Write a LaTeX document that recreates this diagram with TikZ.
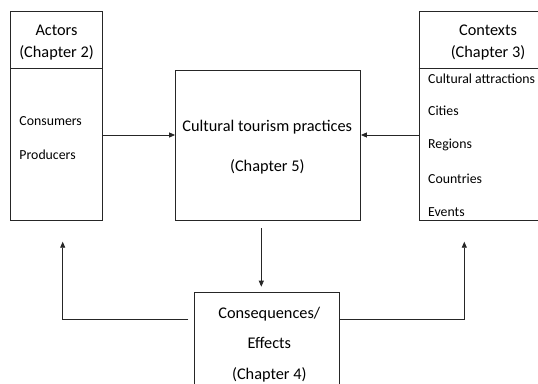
\documentclass[tikz,border=0pt]{standalone}
\usepackage{fontspec}
\setmainfont{Carlito}
\usetikzlibrary{arrows.meta}
\begin{document}
\begin{tikzpicture}[x=1pt,y=-1pt,
  box/.style={draw=black!85,line width=0.8pt,inner sep=0pt},
  big/.style={font=\fontsize{16.3}{19}\selectfont,inner sep=0pt,anchor=center},
  small/.style={font=\fontsize{13.8}{16}\selectfont,inner sep=0pt,anchor=west},
  arr/.style={draw=black!85,line width=0.8pt,-{Triangle[length=6pt,width=5pt]}},
  ln/.style={draw=black!85,line width=0.8pt}]
\useasboundingbox (0,0) rectangle (538,383);
\clip (0,0) rectangle (538,383);
% boxes
\node[box,minimum width=92pt,minimum height=209pt] (actors) at (56.5,115.5) {};
\node[box,minimum width=185pt,minimum height=150pt] (mid) at (268,145) {};
\node[box,minimum width=138pt,minimum height=209pt] (ctx) at (488,115.5) {};
\node[box,minimum width=145.5pt,minimum height=117pt] (cons) at (266.75,351) {};
% dividers
\coordinate (dv) at (0,68.3);
\draw[ln] (actors.west |- dv) -- (actors.east |- dv);
\draw[ln] (ctx.west |- dv) -- (ctx.east |- dv);
% texts
\node[big] (t1) at (56.5,30.7) {Actors};
\node[big] (t2) at (56.5,52.7) {(Chapter 2)};
\node[small] (t3) at (19.3,120.7) {Consumers};
\node[small] (t4) at (19.3,155) {Producers};
\node[big] (t5) at (488,30.7) {Contexts};
\node[big] (t6) at (488,52.7) {(Chapter 3)};
\node[small] (t7) at (428,78.3) {Cultural attractions};
\node[small] (t8) at (428,111) {Cities};
\node[small] (t9) at (428,145) {Regions};
\node[small] (t10) at (428,179) {Countries};
\node[small] (t11) at (428,211.7) {Events};
\node[big] (t12) at (267.3,126.7) {Cultural tourism practices};
\node[big] (t13) at (267.3,166.7) {(Chapter 5)};
\node[big] (t14) at (269.3,314.3) {Consequences/};
\node[big] (t15) at (269.3,342.7) {Effects};
\node[big] (t16) at (269.3,375) {(Chapter 4)};
% arrows
\coordinate (ha) at (0,135);
\draw[arr] (actors.east |- ha) -- (mid.west |- ha);
\draw[arr] (ctx.west |- ha) -- (mid.east |- ha);
\coordinate (dtop) at (261.3,228.3);
\coordinate (dbot) at (261.3,286.7);
\draw[arr] (dtop) -- (dbot);
\coordinate (fl) at (188.3,319);
\coordinate (flc) at (62.7,319);
\coordinate (flt) at (62.7,241.7);
\draw[arr] (fl) -- (flc) -- (flt);
\coordinate (frc) at (464.3,319);
\coordinate (frt) at (464.3,241.7);
\draw[arr] (cons.east |- frc) -- (frc) -- (frt);
\end{tikzpicture}
\end{document}
